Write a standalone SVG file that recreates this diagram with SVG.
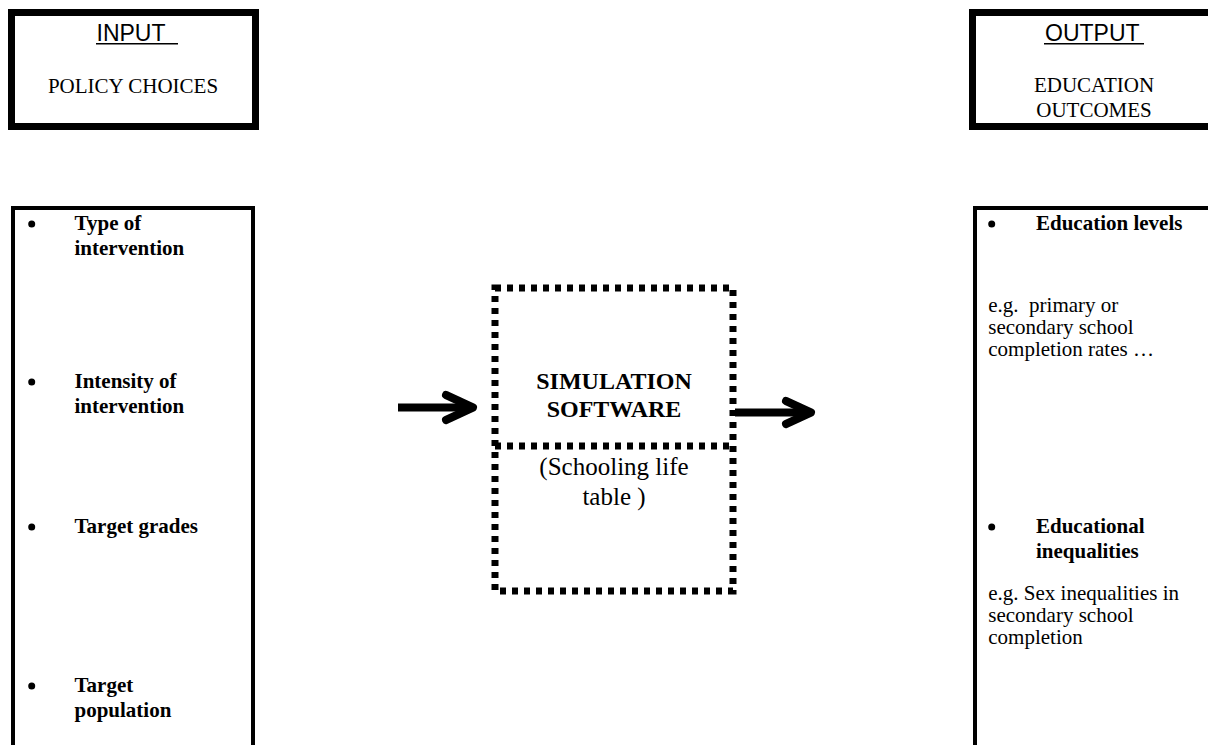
<svg xmlns="http://www.w3.org/2000/svg" width="1208" height="745" viewBox="0 0 1208 745">
<style>
.frame{fill:none;stroke:#000;stroke-width:7}
.tall{fill:none;stroke:#000;stroke-width:4}
.dash{fill:none;stroke:#000;stroke-width:7;stroke-dasharray:6 6}
.sans{font-family:"Liberation Sans",Arial,sans-serif;font-size:23px;fill:#000}
.serif{font-family:"Liberation Serif","Times New Roman",serif;font-size:21px;fill:#000}
.bold{font-family:"Liberation Serif","Times New Roman",serif;font-size:21px;font-weight:bold;fill:#000}
.mid{text-anchor:middle}
.arrow{fill:none;stroke:#000;stroke-width:8;stroke-linecap:round;stroke-linejoin:round}
.shaft{fill:none;stroke:#000;stroke-width:8}
</style>
<rect width="1208" height="745" fill="#fff"/>
<g id="input-header">
<rect class="frame" x="11.5" y="12.5" width="244" height="114"/>
<text class="sans" x="96.5" y="40.7">INPUT</text>
<line x1="96" y1="43.8" x2="178" y2="43.8" stroke="#000" stroke-width="1.6"/>
<text class="serif mid" x="133" y="93">POLICY CHOICES</text>
</g>
<g id="output-header">
<rect class="frame" x="972.5" y="12.5" width="244" height="114"/>
<text class="sans" x="1045" y="40.7">OUTPUT</text>
<line x1="1044" y1="43.8" x2="1144" y2="43.8" stroke="#000" stroke-width="1.6"/>
<text class="serif mid" x="1094" y="91.7">EDUCATION</text>
<text class="serif mid" x="1094" y="117.3">OUTCOMES</text>
</g>
<g id="input-list">
<rect class="tall" x="13" y="208" width="240" height="600"/>
<circle cx="31.7" cy="224" r="3.5"/>
<text class="bold" x="74.5" y="230">Type of</text>
<text class="bold" x="74.5" y="255">intervention</text>
<circle cx="31.7" cy="382" r="3.5"/>
<text class="bold" x="74.5" y="388">Intensity of</text>
<text class="bold" x="74.5" y="413">intervention</text>
<circle cx="31.7" cy="527" r="3.5"/>
<text class="bold" x="74.5" y="533">Target grades</text>
<circle cx="31.7" cy="686" r="3.5"/>
<text class="bold" x="74.5" y="692">Target</text>
<text class="bold" x="74.5" y="717">population</text>
</g>
<g id="simulation">
<rect class="dash" x="495" y="288" width="238" height="303"/>
<line class="dash" x1="495" y1="446" x2="733" y2="446"/>
<text class="bold mid" x="614" y="389" style="font-size:24px">SIMULATION</text>
<text class="bold mid" x="614" y="417" style="font-size:24px">SOFTWARE</text>
<text class="serif mid" x="614" y="475" style="font-size:25px">(Schooling life</text>
<text class="serif mid" x="614" y="505" style="font-size:25px">table )</text>
</g>
<g id="output-list">
<rect class="tall" x="975" y="208" width="260" height="600"/>
<circle cx="991.7" cy="224" r="3.5"/>
<text class="bold" x="1036" y="230">Education levels</text>
<text class="serif" x="988.3" y="312" xml:space="preserve">e.g.  primary or</text>
<text class="serif" x="988.3" y="334">secondary school</text>
<text class="serif" x="988.3" y="356">completion rates …</text>
<circle cx="991.7" cy="527" r="3.5"/>
<text class="bold" x="1036" y="533">Educational</text>
<text class="bold" x="1036" y="558">inequalities</text>
<text class="serif" x="988.3" y="600">e.g. Sex inequalities in</text>
<text class="serif" x="988.3" y="622">secondary school</text>
<text class="serif" x="988.3" y="644">completion</text>
</g>
<g id="connectors">
<line class="shaft" x1="398" y1="407.5" x2="472" y2="407.5"/>
<path class="arrow" d="M446,395 L473,407.5 L446,420"/>
<line class="shaft" x1="735" y1="412.5" x2="810" y2="412.5"/>
<path class="arrow" d="M786,401 L811,412.5 L786,424"/>
</g>
</svg>
